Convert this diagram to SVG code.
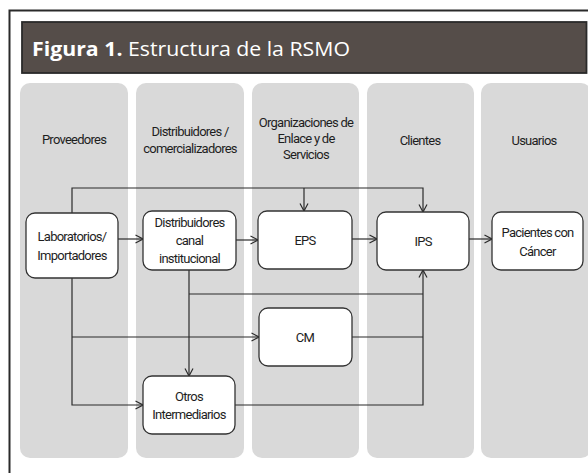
<svg xmlns="http://www.w3.org/2000/svg" width="588" height="473" viewBox="0 0 588 473">
<style>
.lane{fill:#d9d9d9}
.node{fill:#fff;stroke:#333;stroke-width:1.3}
.t{font-family:Roboto,"Liberation Sans",sans-serif;font-size:13px;letter-spacing:-0.75px;fill:#1e1e1e;text-anchor:middle}
.c{fill:none;stroke:#2b2b2b;stroke-width:1.2}
</style>
<defs>
<marker id="ar" viewBox="0 0 10 10" refX="9.5" refY="5" markerWidth="10" markerHeight="10" markerUnits="userSpaceOnUse" orient="auto">
<path d="M2,1 L9.5,5 L2,9" fill="none" stroke="#2b2b2b" stroke-width="1.2"/>
</marker>
</defs>
<rect width="588" height="473" fill="#fff"/>
<rect x="9.5" y="10.5" width="600" height="500" fill="none" stroke="#2a2a2a" stroke-width="2"/>
<rect x="22" y="22" width="564.5" height="51" fill="#554d49" stroke="#2a2a2a" stroke-width="1.8"/>
<text x="32" y="56" font-family="'Open Sans',sans-serif" font-size="20" fill="#fff" textLength="318" lengthAdjust="spacingAndGlyphs"><tspan font-weight="bold">Figura 1.</tspan> Estructura de la RSMO</text>
<g id="lanes">
<rect class="lane" x="20" y="83" width="108" height="375" rx="10"/>
<rect class="lane" x="136" y="83" width="108" height="375" rx="10"/>
<rect class="lane" x="252" y="83" width="107" height="375" rx="10"/>
<rect class="lane" x="367" y="83" width="107" height="375" rx="10"/>
<rect class="lane" x="481" y="83" width="110" height="375" rx="10"/>
<text class="t" x="74" y="144">Proveedores</text>
<text class="t" x="190" y="136">Distribuidores /</text>
<text class="t" x="190" y="153">comercializadores</text>
<text class="t" x="306" y="127">Organizaciones de</text>
<text class="t" x="306" y="143">Enlace y de</text>
<text class="t" x="306" y="159">Servicios</text>
<text class="t" x="420" y="145">Clientes</text>
<text class="t" x="534" y="145">Usuarios</text>
</g>
<g id="connectors">
<path class="c" d="M118,239 H143" marker-end="url(#ar)"/>
<path class="c" d="M236,240 H258" marker-end="url(#ar)"/>
<path class="c" d="M352,239 H377" marker-end="url(#ar)"/>
<path class="c" d="M469,239 H492" marker-end="url(#ar)"/>
<path class="c" d="M72,213 V188 H423 V212" marker-end="url(#ar)"/>
<path class="c" d="M304,188 V211" marker-end="url(#ar)"/>
<path class="c" d="M189,270 V376" marker-end="url(#ar)"/>
<path class="c" d="M189,294 H423"/>
<path class="c" d="M72,278 V405 H143" marker-end="url(#ar)"/>
<path class="c" d="M72,337 H259" marker-end="url(#ar)"/>
<path class="c" d="M352,337 H423"/>
<path class="c" d="M235,405 H423 V270" marker-end="url(#ar)"/>
</g>
<g id="lab">
<rect class="node" x="26" y="213" width="92" height="65" rx="9"/>
<text class="t" x="72" y="241">Laboratorios/</text>
<text class="t" x="72" y="260">Importadores</text>
</g>
<g id="dist">
<rect class="node" x="143" y="211" width="93" height="59" rx="9"/>
<text class="t" x="189.5" y="227">Distribuidores</text>
<text class="t" x="189.5" y="245">canal</text>
<text class="t" x="189.5" y="263">institucional</text>
</g>
<g id="eps">
<rect class="node" x="258" y="211" width="94" height="58" rx="9"/>
<text class="t" x="305" y="245">EPS</text>
</g>
<g id="ips">
<rect class="node" x="377" y="212" width="92" height="58" rx="9"/>
<text class="t" x="423" y="246">IPS</text>
</g>
<g id="pac">
<rect class="node" x="492" y="212" width="91" height="58" rx="9"/>
<text class="t" x="537.5" y="237">Pacientes con</text>
<text class="t" x="537.5" y="256">Cáncer</text>
</g>
<g id="cm">
<rect class="node" x="259" y="308" width="93" height="58" rx="9"/>
<text class="t" x="305" y="342">CM</text>
</g>
<g id="otros">
<rect class="node" x="143" y="376" width="92" height="58" rx="9"/>
<text class="t" x="189" y="401">Otros</text>
<text class="t" x="189" y="419">Intermediarios</text>
</g>
</svg>
